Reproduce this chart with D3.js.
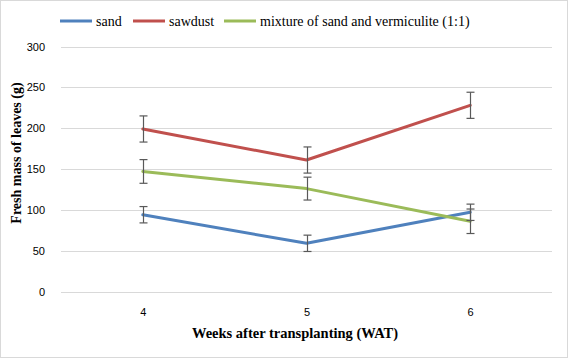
<!DOCTYPE html>
<html><head><meta charset="utf-8">
<script src="https://cdn.jsdelivr.net/npm/d3@7"></script>
<style>body{margin:0;background:#fff}svg{display:block}</style>
</head><body>
<script>
const weeks = ["4", "5", "6"];
const seriesNames = ["sand", "sawdust", "mixture of sand and vermiculite (1:1)"];
const sandValues = [94, 59, 97];
const sandErrors = [10, 10, 10];
const sawdustValues = [199, 161, 228];
const sawdustErrors = [16, 16, 16];
const mixtureValues = [147, 126, 86];
const mixtureErrors = [14.5, 14, 15];
const yTicks = [0, 50, 100, 150, 200, 250, 300];
const colors = ["#4F81BD", "#C0504D", "#9BBB59"];

(function () {
const series = [
  {name: seriesNames[0], values: sandValues, errors: sandErrors, color: colors[0]},
  {name: seriesNames[1], values: sawdustValues, errors: sawdustErrors, color: colors[1]},
  {name: seriesNames[2], values: mixtureValues, errors: mixtureErrors, color: colors[2]}
];

const W = 568, H = 358;
const svg = d3.select("body").append("svg").attr("width", W).attr("height", H);
svg.append("rect").attr("x", 0.5).attr("y", 0.5).attr("width", W - 1).attr("height", H - 1)
  .attr("fill", "#fff").attr("stroke", "#d9d9d9");

const pLeft = 61, pRight = 552, pTop = 46.5, pBottom = 291.5;
const x = d3.scalePoint().domain(weeks).range([pLeft, pRight]).padding(0.5);
const y = d3.scaleLinear().domain([0, 300]).range([pBottom, pTop]);

svg.append("g").selectAll("line").data(yTicks).join("line")
  .attr("x1", pLeft).attr("x2", pRight)
  .attr("y1", d => Math.round(y(d)) + 0.5).attr("y2", d => Math.round(y(d)) + 0.5)
  .attr("stroke", "#d9d9d9").attr("stroke-width", 1);

const yAxis = svg.append("g").attr("transform", `translate(${pLeft},0)`)
  .call(d3.axisLeft(y).tickValues(yTicks).tickSize(0).tickPadding(16));
yAxis.select(".domain").remove();
yAxis.selectAll("text").attr("font-family", "Liberation Sans, Arial, sans-serif")
  .attr("font-size", 11).attr("fill", "#000");

const xAxis = svg.append("g").attr("transform", `translate(0,${pBottom})`)
  .call(d3.axisBottom(x).tickSize(0).tickPadding(17));
xAxis.select(".domain").remove();
xAxis.selectAll("text").attr("font-family", "Liberation Sans, Arial, sans-serif")
  .attr("font-size", 11).attr("fill", "#000");

svg.append("text").attr("x", 295).attr("y", 338).attr("text-anchor", "middle")
  .attr("font-family", "Liberation Serif, Times New Roman, serif").attr("font-weight", "bold")
  .attr("font-size", 14.5).text("Weeks after transplanting (WAT)");
svg.append("text").attr("transform", "translate(21,153) rotate(-90)").attr("text-anchor", "middle")
  .attr("font-family", "Liberation Serif, Times New Roman, serif").attr("font-weight", "bold")
  .attr("font-size", 14).text("Fresh mass of leaves (g)");

const line = d3.line().x((d, i) => x(weeks[i])).y(d => y(d));
series.forEach(s => {
  svg.append("path").datum(s.values).attr("d", line).attr("fill", "none")
    .attr("stroke", s.color).attr("stroke-width", 3).attr("stroke-linejoin", "round").attr("stroke-linecap", "round");
});

series.forEach(s => {
  const g = svg.append("g").attr("stroke", "#595959").attr("stroke-width", 1.2);
  s.values.forEach((v, i) => {
    const cx = Math.round(x(weeks[i])) + 0.5;
    const y1 = y(v + s.errors[i]), y2 = y(v - s.errors[i]);
    g.append("line").attr("x1", cx).attr("x2", cx).attr("y1", y1).attr("y2", y2);
    g.append("line").attr("x1", cx - 4).attr("x2", cx + 4).attr("y1", y1).attr("y2", y1);
    g.append("line").attr("x1", cx - 4).attr("x2", cx + 4).attr("y1", y2).attr("y2", y2);
  });
});

const legendX = [60, 133, 224];
series.forEach((s, i) => {
  const g = svg.append("g").attr("transform", `translate(${legendX[i]},21)`);
  g.append("line").attr("x1", 0).attr("x2", 32).attr("y1", 0).attr("y2", 0)
    .attr("stroke", s.color).attr("stroke-width", 3);
  g.append("text").attr("x", 36).attr("y", 5).attr("font-family", "Liberation Serif, Times New Roman, serif")
    .attr("font-size", 14).text(s.name);
});
})();
</script>
</body></html>
